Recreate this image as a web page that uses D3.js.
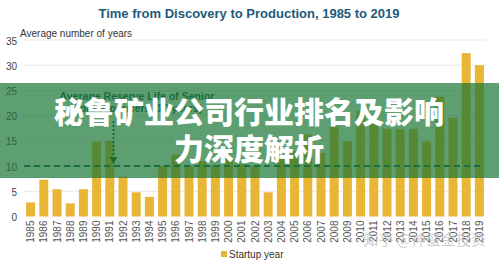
<!DOCTYPE html>
<html>
<head>
<meta charset="utf-8">
<script src="https://cdn.jsdelivr.net/npm/d3@7"></script>
<style>
  html, body { margin: 0; padding: 0; background: #ffffff; }
  svg { display: block; }
</style>
</head>
<body>
<svg id="chart" width="499" height="262"></svg>
<script>
// ---- data ----
const years = ["1985","1986","1987","1988","1989","1990","1991","1992","1993","1994",
  "1995","1996","1997","1998","1999","2000","2001","2002","2003","2004",
  "2005","2006","2007","2008","2009","2010","2011","2012","2013","2014",
  "2015","2016","2017","2018","2019"];
const startupYears = [2.8, 7.3, 5.4, 2.6, 5.4, 14.8, 15, 7.9, 4.8, 3.9,
  10, 12.3, 10, 11, 10.2, 11.5, 10.4, 10, 4.8, 11.5,
  13, 16.3, 12.6, 17.8, 14.9, 21, 18.5, 17.4, 17.3, 17.4,
  14.9, 23.8, 19.6, 32.4, 30];
const yTicks = [0, 5, 10, 15, 20, 25, 30, 35];
const reserveLife = 10;
const titleText = "Time from Discovery to Production, 1985 to 2019";
const yAxisTitle = "Average number of years";
const annotationLines = ["Average Reserve Life of Senior", "Gold Producers (10 years)"];
const legendLabel = "Startup year";
const bannerLines = ["秘鲁矿业公司行业排名及影响", "力深度解析"];
const watermark = "知乎 @神盛金投资";

// ---- layout ----
const W = 499, H = 262;
const plot = { left: 24, right: 486, top: 40, bottom: 216.5 };
const svg = d3.select("#chart");

const x = d3.scaleBand().domain(years).range([plot.left, plot.right])
  .paddingInner(0.32).paddingOuter(0.16);
const y = d3.scaleLinear().domain([0, 35]).range([plot.bottom, plot.top]);

// title
svg.append("text").attr("x", 249).attr("y", 18).attr("text-anchor", "middle")
  .attr("font-family", "Liberation Sans, Arial, sans-serif").attr("font-weight", "bold")
  .attr("font-size", 13).attr("fill", "#1d5a7a").text(titleText);

// gridlines
svg.append("g").selectAll("line").data(yTicks.filter(d => d > 0)).join("line")
  .attr("x1", plot.left).attr("x2", plot.right)
  .attr("y1", d => y(d)).attr("y2", d => y(d))
  .attr("stroke", "#ebe7e0").attr("stroke-width", 1);

// y axis
const yAxis = d3.axisLeft(y).tickValues(yTicks).tickSize(0).tickPadding(0);
const gy = svg.append("g").attr("transform", `translate(17,0)`).call(yAxis);
gy.select(".domain").remove();
gy.selectAll("text").attr("font-family", "Liberation Sans, Arial, sans-serif")
  .attr("font-size", 10).attr("fill", "#444").attr("dy", "0.4em");

// y-axis title
svg.append("text").attr("x", 20).attr("y", 37)
  .attr("font-family", "Liberation Sans, Arial, sans-serif").attr("font-size", 10)
  .attr("fill", "#333").text(yAxisTitle);

// bars
svg.append("g").selectAll("rect").data(years).join("rect")
  .attr("x", d => x(d)).attr("width", x.bandwidth())
  .attr("y", (d, i) => y(startupYears[i]))
  .attr("height", (d, i) => y(0) - y(startupYears[i]))
  .attr("fill", "#e8b535");

// x axis
const xAxis = d3.axisBottom(x).tickSize(0).tickPadding(0);
const gx = svg.append("g").attr("transform", `translate(0,${plot.bottom})`).call(xAxis);
gx.select(".domain").remove();
gx.selectAll("text").attr("font-family", "Liberation Sans, Arial, sans-serif")
  .attr("font-size", 10).attr("fill", "#555")
  .attr("transform", "rotate(-90)").attr("text-anchor", "end")
  .attr("x", -4).attr("y", 0).attr("dy", "0.35em");

// reserve life dashed line
svg.append("line").attr("x1", plot.left).attr("x2", plot.right - 3)
  .attr("y1", y(reserveLife)).attr("y2", y(reserveLife))
  .attr("stroke", "#1b5f6c").attr("stroke-width", 2).attr("stroke-dasharray", "6,4");

// annotation
const ann = svg.append("text").attr("font-family", "Liberation Sans, Arial, sans-serif")
  .attr("font-size", 10.5).attr("font-weight", "bold").attr("fill", "#1d4f5a")
  .attr("text-anchor", "middle");
annotationLines.forEach((t, i) => ann.append("tspan").attr("x", 137).attr("y", 100 + i * 12).text(t));

// dotted arrow
const arrowX = x("1992") - 5;
svg.append("line").attr("x1", arrowX).attr("x2", arrowX)
  .attr("y1", 121).attr("y2", 158)
  .attr("stroke", "#1d4f3a").attr("stroke-width", 2).attr("stroke-dasharray", "2,2");
svg.append("path").attr("d", `M${arrowX - 4},157 L${arrowX + 4},157 L${arrowX},164 Z`)
  .attr("fill", "#1d4f3a");

// legend
svg.append("rect").attr("x", 221).attr("y", 251).attr("width", 6).attr("height", 6).attr("fill", "#e8b535");
svg.append("text").attr("x", 229).attr("y", 258)
  .attr("font-family", "Liberation Sans, Arial, sans-serif").attr("font-size", 10)
  .attr("fill", "#333").text(legendLabel);

// watermark
svg.append("text").attr("x", 486).attr("y", 245).attr("text-anchor", "end")
  .attr("font-family", "Noto Sans CJK SC, sans-serif").attr("font-size", 15)
  .attr("fill", "rgba(190,190,190,0.75)").text(watermark);

// banner overlay
svg.append("rect").attr("x", 0).attr("y", 83).attr("width", W).attr("height", 95)
  .attr("fill", "rgb(25,118,52)").attr("fill-opacity", 0.7);
const bt = svg.append("text").attr("font-family", "Noto Sans CJK SC, sans-serif")
  .attr("font-weight", 900).attr("font-size", 30).attr("fill", "#ffffff")
  .attr("text-anchor", "middle");
bannerLines.forEach((t, i) => bt.append("tspan").attr("x", 249).attr("y", 123 + i * 37).text(t));
</script>
</body>
</html>
